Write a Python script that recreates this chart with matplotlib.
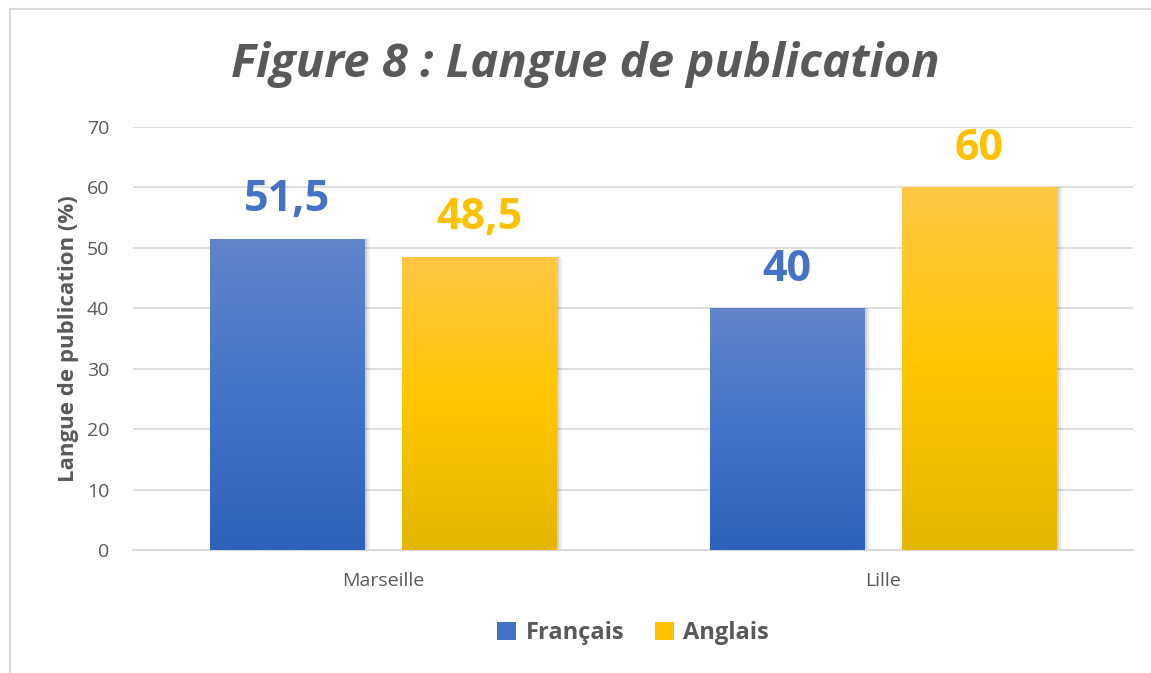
import matplotlib.pyplot as plt
import numpy as np
from matplotlib.colors import LinearSegmentedColormap
from matplotlib.patches import Rectangle, Patch

plt.rcParams['font.family'] = ['Open Sans', 'DejaVu Sans']

# data
villes = ['Marseille', 'Lille']
francais = [51.5, 40]
anglais = [48.5, 60]
labels_fr = ['51,5', '40']
labels_en = ['48,5', '60']

blue_cmap = LinearSegmentedColormap.from_list('b', ['#2E61B9', '#4374C8', '#6284CB'])
gold_cmap = LinearSegmentedColormap.from_list('g', ['#E4B600', '#FFC600', '#FFC745'])

fig = plt.figure(figsize=(11.51, 6.73), dpi=100)
ax = fig.add_axes([133 / 1151, 1 - 550 / 673, 1000 / 1151, 423 / 673])

# frame of the chart area (only top and left visible)
fig.add_artist(plt.Line2D([10 / 1151, 10 / 1151], [0, 1 - 9 / 673], color='#D9D9D9', lw=1.5))
fig.add_artist(plt.Line2D([10 / 1151, 1], [1 - 9 / 673, 1 - 9 / 673], color='#D9D9D9', lw=1.5))

x = np.arange(len(villes))
w = 0.31
off = 0.192
grad = np.linspace(0, 1, 256).reshape(-1, 1)


def gradient_bar(xc, h, cmap):
    # soft shadow
    for k, a in enumerate([0.10, 0.06, 0.03]):
        d = 0.004 * (k + 1)
        ax.add_patch(Rectangle((xc - w / 2 + d, -0.1), w, h + 0.1,
                               facecolor='black', alpha=a, lw=0, zorder=2))
    rect = Rectangle((xc - w / 2, 0), w, h, facecolor='none', lw=0, zorder=3)
    ax.add_patch(rect)
    im = ax.imshow(grad, cmap=cmap, aspect='auto', origin='lower',
                   extent=[xc - w / 2, xc + w / 2, 0, h], zorder=3)
    im.set_clip_path(rect)


for i in range(len(villes)):
    gradient_bar(x[i] - off, francais[i], blue_cmap)
    gradient_bar(x[i] + off, anglais[i], gold_cmap)
    ax.text(x[i] - off, francais[i] + 6.5, labels_fr[i], ha='center', va='center',
            fontsize=31, fontweight='bold', color='#4472C4')
    ax.text(x[i] + off, anglais[i] + 6.5, labels_en[i], ha='center', va='center',
            fontsize=31, fontweight='bold', color='#FFC000')

ax.set_xlim(-0.5, 1.5)
ax.set_ylim(0, 70)
ax.set_yticks(range(0, 71, 10))
ax.set_xticks(x)
ax.set_xticklabels(villes)
ax.tick_params(axis='both', length=0, labelcolor='#595959')
ax.tick_params(axis='x', pad=16, labelsize=14)
ax.tick_params(axis='y', pad=17, labelsize=14)
ax.grid(axis='y', color='#D9D9D9', lw=1.2, zorder=0)
ax.set_axisbelow(True)
for s in ['top', 'right', 'left']:
    ax.spines[s].set_visible(False)
ax.spines['bottom'].set_color('#D9D9D9')
ax.spines['bottom'].set_linewidth(1.5)

ax.set_ylabel('Langue de publication (%)', fontsize=16, fontweight='bold',
              color='#595959', labelpad=6)

fig.text(585 / 1151, 1 - 64 / 673, 'Figure 8 : Langue de publication',
         ha='center', va='center', fontsize=34, fontweight='bold',
         fontstyle='italic', color='#595959')

handles = [Patch(facecolor='#4472C4'), Patch(facecolor='#FFC000')]
fig.legend(handles, ['Français', 'Anglais'], loc='center',
           bbox_to_anchor=(633 / 1151, 1 - 633 / 673), ncol=2, frameon=False,
           prop={'size': 17, 'weight': 'bold'}, labelcolor='#595959',
           handlelength=0.8, handleheight=0.8, handletextpad=0.4, columnspacing=1.3)

fig.savefig('out.png', dpi=100)
